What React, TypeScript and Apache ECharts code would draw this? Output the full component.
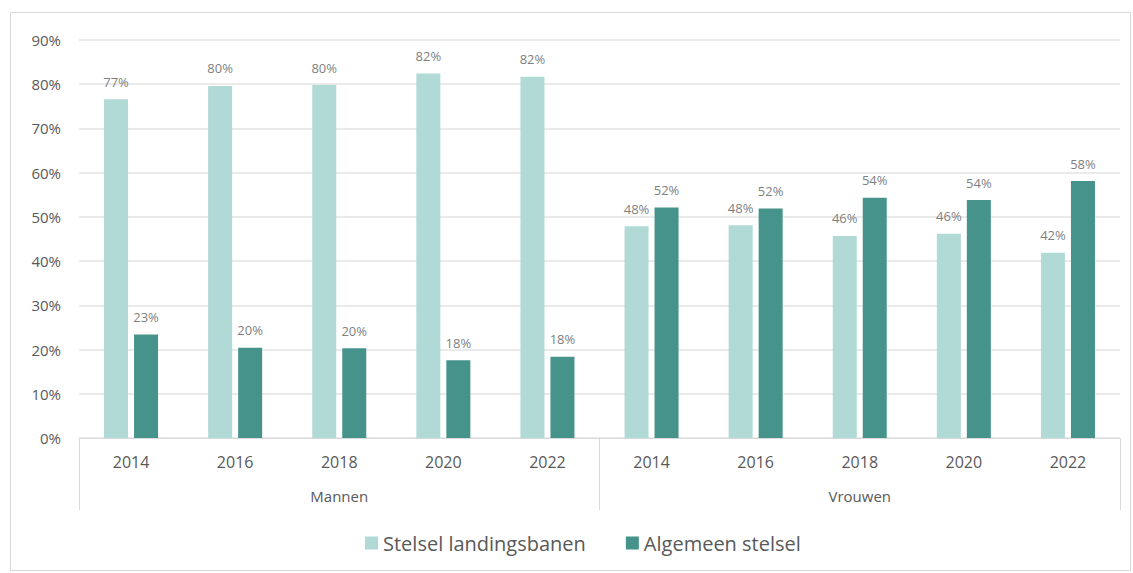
import React, { useEffect, useRef } from "react";
import * as echarts from "echarts";

const years = ["2014", "2016", "2018", "2020", "2022", "2014", "2016", "2018", "2020", "2022"];
const groups = ["Mannen", "Vrouwen"];
const seriesNames = ["Stelsel landingsbanen", "Algemeen stelsel"];
const landingsbanen = [76.6, 79.6, 79.8, 82.4, 81.7, 47.9, 48.1, 45.7, 46.2, 41.9];
const algemeen = [23.4, 20.4, 20.3, 17.6, 18.4, 52.1, 51.9, 54.3, 53.8, 58.1];
const yTicks = [0, 10, 20, 30, 40, 50, 60, 70, 80, 90];

const FONT = "'Open Sans', 'Noto Sans', sans-serif";

export default function App() {
  const ref = useRef<HTMLDivElement>(null);
  useEffect(() => {
    document.body.style.margin = "0";
    const chart = echarts.init(ref.current!, null, { renderer: "svg" });
    const label = {
      show: true,
      position: "top",
      distance: 11,
      color: "#7F7F7F",
      fontSize: 13,
      fontFamily: FONT,
      formatter: (p: any) => Math.round(p.value) + "%",
    };
    chart.setOption({
      animation: false,
      textStyle: { fontFamily: FONT },
      graphic: [
        {
          type: "rect",
          shape: { x: 10.5, y: 12.5, width: 1120, height: 558 },
          style: { fill: "none", stroke: "#D9D9D9", lineWidth: 1 },
          silent: true,
        },
      ],
      grid: { left: 79, right: 13, top: 40, bottom: 135, containLabel: false },
      legend: {
        bottom: 15,
        left: 360,
        itemWidth: 13,
        itemHeight: 13,
        itemGap: 40,
        icon: "rect",
        textStyle: { color: "#595959", fontSize: 20, fontFamily: FONT },
        data: seriesNames,
      },
      xAxis: [
        {
          type: "category",
          data: years,
          axisLine: { show: true, lineStyle: { color: "#D9D9D9", width: 1 } },
          axisTick: { show: false },
          axisLabel: { color: "#595959", fontSize: 16, margin: 16, fontFamily: FONT },
        },
        {
          type: "category",
          data: groups,
          position: "bottom",
          axisLine: { show: false },
          axisTick: { show: true, length: 72, lineStyle: { color: "#D9D9D9", width: 1 } },
          axisLabel: { color: "#595959", fontSize: 15, margin: 50, fontFamily: FONT },
        },
      ],
      yAxis: {
        type: "value",
        min: 0,
        max: 90,
        interval: 10,
        axisLine: { show: false },
        axisTick: { show: false },
        splitLine: { lineStyle: { color: "#E3E3E3", width: 1.5 } },
        axisLabel: {
          color: "#595959",
          fontSize: 15,
          margin: 18,
          fontFamily: FONT,
          formatter: (v: number) => (yTicks.includes(v) ? v + "%" : ""),
        },
      },
      series: [
        {
          name: seriesNames[0],
          type: "bar",
          data: landingsbanen,
          barWidth: 24,
          barGap: "25%",
          itemStyle: { color: "#B1D9D6" },
          label,
        },
        {
          name: seriesNames[1],
          type: "bar",
          data: algemeen,
          barWidth: 24,
          itemStyle: { color: "#46938C" },
          label,
        },
      ],
    });
    return () => chart.dispose();
  }, []);
  return <div ref={ref} style={{ width: 1133, height: 573 }} />;
}
